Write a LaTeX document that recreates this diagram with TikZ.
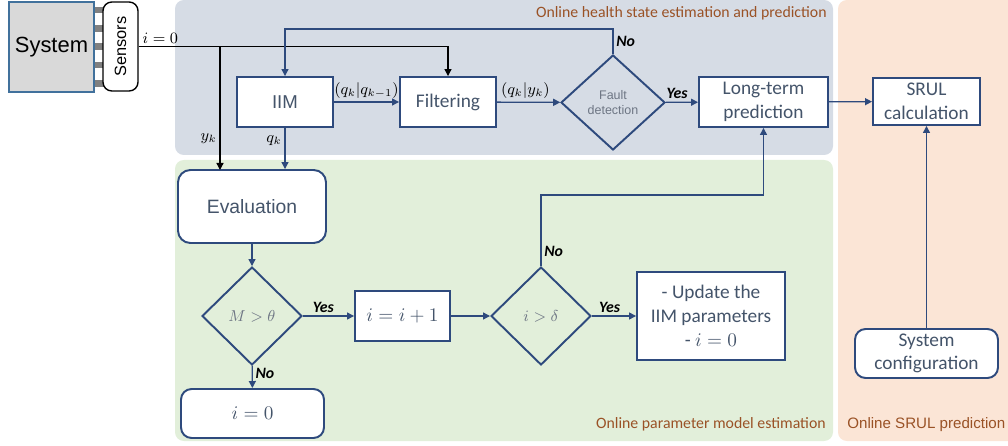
\documentclass[tikz,border=0pt]{standalone}
\usepackage{amsmath}
\usepackage{amssymb}
\usepackage{fontspec}
\setmainfont{Carlito}
\newfontfamily\arialfont{Liberation Sans}
\usetikzlibrary{shapes.geometric,arrows.meta}

\definecolor{navy}{HTML}{2E4A7D}
\definecolor{boxtext}{HTML}{44546A}
\definecolor{dectext}{HTML}{6E7684}
\definecolor{healthbg}{HTML}{D6DCE5}
\definecolor{parambg}{HTML}{E2EFDA}
\definecolor{srulbg}{HTML}{FBE5D6}
\definecolor{paneltext}{HTML}{9A5226}
\definecolor{sysgray}{HTML}{D9D9D9}
\definecolor{sysedge}{HTML}{41719C}

\tikzset{
  box/.style={draw=navy, line width=1.1pt, fill=white, text=boxtext, align=center,
    inner sep=0pt, font=\fontsize{11}{13.5}\selectfont},
  rbox/.style={box, rounded corners=6pt},
  dec/.style={diamond, draw=navy, line width=1.1pt, inner sep=0pt, text=dectext, align=center},
  flow/.style={navy, line width=0.75pt, -{Triangle[length=4pt,width=4pt]}},
  blk/.style={black, line width=0.75pt, -{Triangle[length=4pt,width=4pt]}},
  yn/.style={font=\fontsize{9}{10}\selectfont\bfseries\itshape, text=black, inner sep=1.5pt},
  lab/.style={font=\fontsize{9}{10}\selectfont, text=black, inner sep=1.5pt},
  panel/.style={font=\fontsize{9}{10}\selectfont, text=paneltext, inner sep=0pt}
}

\begin{document}
\begin{tikzpicture}[x=0.02cm,y=-0.02cm]
\useasboundingbox (0,0) rectangle (1008,446);

% panels
\fill[healthbg, rounded corners=5pt] (175,0) rectangle (833,155);
\fill[parambg, rounded corners=5pt] (175,160) rectangle (833,441);
\fill[srulbg, rounded corners=5pt] (838,0) rectangle (1020,441);
\node[panel, anchor=east] (hlab) at (827,13) {Online health state estimation and prediction};
\node[panel, anchor=east] (plab) at (826,424) {Online parameter model estimation};
\node[panel, anchor=west, font=\arialfont\fontsize{8.6}{10}\selectfont] (slab) at (847,425) {Online SRUL prediction};

% system and sensors
\foreach \py in {10,28.5,46.5,65,83.5}
  \fill[gray] (92,\py-3.3) rectangle (104,\py+3.3);
\node[draw=sysedge, line width=0.8pt, fill=sysgray, minimum width=1.66cm, minimum height=1.8cm,
  font=\arialfont\fontsize{12.5}{14}\selectfont] (sys) at (51.5,47) {System};
\node[draw, line width=0.8pt, fill=white, rounded corners=5pt, rotate=90, minimum width=1.78cm,
  minimum height=0.7cm, font=\arialfont\fontsize{9.3}{11}\selectfont] (sens) at (120.5,46.5) {Sensors};

% health state estimation
\node[box, minimum width=1.92cm, minimum height=1cm, font=\arialfont\fontsize{10.6}{12}\selectfont] (iim) at (285,102) {IIM};
\node[box, minimum width=1.92cm, minimum height=1cm] (filt) at (448,102) {Filtering};
\node[dec, minimum width=2.08cm, minimum height=1.9cm, font=\arialfont\fontsize{7.1}{9}\selectfont] (fault) at (613,102.5) {Fault\\detection};
\node[box, minimum width=2.58cm, minimum height=1cm] (ltp) at (763.5,102) {Long-term\\prediction};

% SRUL
\node[box, minimum width=2.14cm, minimum height=0.94cm] (srul) at (926.5,101.5) {SRUL\\calculation};
\node[rbox, minimum width=2.86cm, minimum height=0.98cm] (cfg) at (926.5,353.5) {System\\configuration};

% parameter model estimation
\node[rbox, rounded corners=7pt, minimum width=2.96cm, minimum height=1.46cm,
  font=\arialfont\fontsize{11}{13}\selectfont] (ev) at (252,206.5) {Evaluation};
\node[dec, minimum width=2cm, minimum height=1.96cm, font=\fontsize{9.5}{11}\selectfont] (dm) at (252,316) {$M>\theta$};
\node[box, minimum width=1.9cm, minimum height=1cm, font=\fontsize{11}{13}\selectfont] (inc) at (402.5,316) {$i=i+1$};
\node[dec, minimum width=2cm, minimum height=1.96cm, font=\fontsize{9.5}{11}\selectfont] (di) at (541,316) {$i>\delta$};
\node[box, minimum width=2.96cm, minimum height=1.76cm] (upd) at (711,316) {- Update the\\IIM parameters\\- $i=0$};
\node[rbox, minimum width=2.86cm, minimum height=0.98cm, font=\fontsize{11}{13}\selectfont] (rst) at (252.5,413.5) {$i=0$};

% measurements
\coordinate (yk) at (220,170);
\draw[blk] (sens.south) -- node[lab, above, pos=0.07] {$i=0$} (sens.south -| filt.north) -- (filt.north);
\draw[blk] (sens.south -| yk) -- node[lab, left, pos=0.75] {$y_k$} (yk);

% flow
\draw[flow] (iim) -- node[lab, above] {$(q_k|q_{k-1})$} (filt);
\draw[flow] (filt) -- node[lab, above, pos=0.45] {$(q_k|y_k)$} (fault);
\draw[flow] (fault) -- node[yn, above, pos=0.35] {Yes} (ltp);
\draw[flow] (fault.north) -- node[yn, right, pos=0.5] {No} ++(0,-25) -| (iim.north);
\draw[flow] (iim.south) -- node[lab, left, pos=0.3] {$q_k$} (iim.south |- ev.north);
\draw[flow] (ltp) -- (srul);
\draw[flow] (cfg) -- (srul);
\draw[flow] (ev) -- (dm);
\draw[flow] (dm) -- node[yn, above, pos=0.4] {Yes} (inc);
\draw[flow] (dm) -- node[yn, right, pos=0.35] {No} (rst);
\draw[flow] (inc) -- (di);
\draw[flow] (di) -- node[yn, above, pos=0.4] {Yes} (upd);
\draw[flow] (di.north) -- node[yn, right, pos=0.2] {No} ++(0,-71) -| (ltp.south);
\end{tikzpicture}
\end{document}
